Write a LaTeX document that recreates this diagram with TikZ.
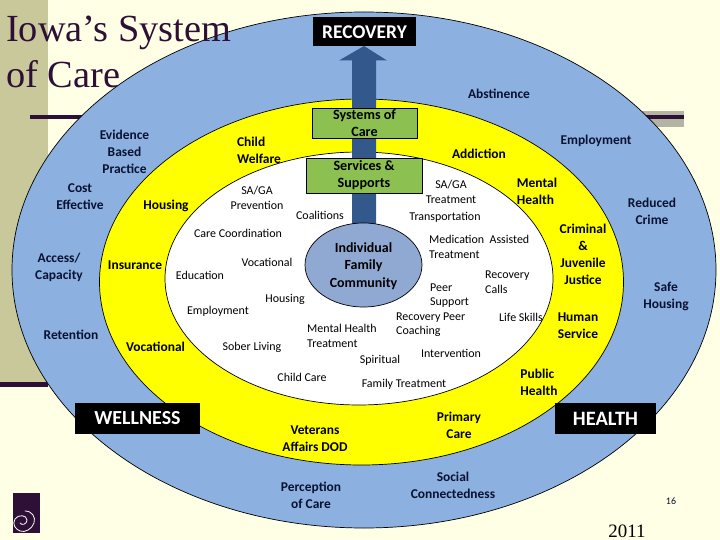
\documentclass[tikz,border=0pt]{standalone}
\usepackage{fontspec}
\setmainfont{Carlito}
\newfontfamily\titlefont{Liberation Serif}
\definecolor{cream}{HTML}{FFFFE6}
\definecolor{khaki}{HTML}{C8C89A}
\definecolor{dkpurple}{HTML}{2E0F36}
\definecolor{ringblue}{HTML}{8CB1E0}
\definecolor{innerblue}{HTML}{8FA9D2}
\definecolor{ringyellow}{HTML}{FFFF00}
\definecolor{boxgreen}{HTML}{8CC152}
\definecolor{arrowblue}{HTML}{33598C}
\definecolor{navy}{HTML}{0A1232}
\definecolor{rulegray}{HTML}{B4B4A4}
\tikzset{
 x=1bp,y=-1bp,
 ring/.style={draw=black,line width=0.7bp},
 lab/.style={align=center,font=\fontsize{13.5}{17}\selectfont\bfseries,text=navy,inner sep=0pt},
 yel/.style={lab,text=black},
 small/.style={align=center,font=\fontsize{12}{14.5}\selectfont,text=black,inner sep=0pt},
 green box/.style={draw=black,fill=boxgreen,line width=0.7bp,inner sep=0pt},
 black box/.style={fill=black,text=white,font=\bfseries,inner sep=0pt},
 title/.style={font=\titlefont\fontsize{38.5}{44}\selectfont,text=dkpurple,inner sep=0pt,anchor=base west},
}
\begin{document}
\begin{tikzpicture}
\useasboundingbox (0,0) rectangle (720,540);
\fill[cream] (0,0) rectangle (720,540);
\fill[khaki] (0,0) rectangle (48,382);
\fill[dkpurple] (0,382) rectangle (48,386.5);
\fill[rulegray] (620,111) rectangle (684,127);
\fill[dkpurple] (30,115.5) rectangle (684,119);
% rings
\draw[ring,fill=ringblue] (364,270) ellipse [x radius=352,y radius=258];
\draw[ring,fill=ringyellow] (361.5,282) ellipse [x radius=262,y radius=183];
\draw[ring,fill=white] (359,278.5) ellipse [x radius=194,y radius=126.5];
% arrow
\fill[arrowblue] (364,46) -- (387,60.5) -- (376,60.5) -- (376,224) -- (352,224) -- (352,60.5) -- (339,60.5) -- cycle;
\draw[ring,fill=innerblue] (363.5,265) ellipse [x radius=58.5,y radius=42];
% title
\node[title] (t1) at (6,42) {Iowa’s System};
\node[title] (t2) at (6,88) {of Care};
% black boxes
\node[black box,minimum width=103bp,minimum height=29bp,font=\fontsize{19.5}{20}\selectfont\bfseries] (recovery) at (364.5,32) {RECOVERY};
\node[black box,minimum width=125bp,minimum height=31bp,font=\fontsize{20}{20}\selectfont\bfseries] (wellness) at (137.5,418.5) {WELLNESS};
\node[black box,minimum width=101bp,minimum height=31bp,font=\fontsize{20.5}{20}\selectfont\bfseries] (health) at (605.5,418.5) {HEALTH};
% green boxes
\node[green box,yel,font=\fontsize{14.2}{17}\selectfont\bfseries,minimum width=105bp,minimum height=30bp] (systems) at (364.5,123) {Systems of\\Care};
\node[green box,yel,font=\fontsize{14.2}{17}\selectfont\bfseries,minimum width=116bp,minimum height=35bp] (services) at (364,175.5) {Services \&\\Supports};
% blue ring labels
\node[lab] (a1) at (124.5,152) {Evidence\\Based\\Practice};
\node[lab] (a2) at (80,197) {Cost\\Effective};
\node[lab] (a3) at (59,267) {Access/\\Capacity};
\node[lab] (a4) at (71,335) {Retention};
\node[lab] (a5) at (499,93.5) {Abstinence};
\node[lab] (a6) at (596,141) {Employment};
\node[lab] (a7) at (652,211) {Reduced\\Crime};
\node[lab] (a8) at (666,296) {Safe\\Housing};
\node[lab] (a9) at (453,485) {Social\\Connectedness};
\node[lab] (a10) at (311,495) {Perception\\of Care};
% yellow ring labels
\node[yel,align=left] (b1) at (259,150) {Child\\Welfare};
\node[yel] (b2) at (166,206) {Housing};
\node[yel] (b3) at (135,265) {Insurance};
\node[yel] (b4) at (155.5,347) {Vocational};
\node[yel] (b5) at (479,153.5) {Addiction};
\node[yel,align=left] (b6) at (537,191) {Mental\\Health};
\node[yel] (b7) at (583,254) {Criminal\\\&\\Juvenile\\Justice};
\node[yel] (b8) at (578,325.5) {Human\\Service};
\node[yel,align=left] (b9) at (539,382) {Public\\Health};
\node[yel] (b10) at (459,425.5) {Primary\\Care};
\node[yel] (b11) at (315,439) {Veterans\\Affairs DOD};
% white ring labels
\node[small] (c1) at (257,198) {SA/GA\\Prevention};
\node[small] (c2) at (320,215) {Coalitions};
\node[small] (c3) at (238,233) {Care Coordination};
\node[small] (c4) at (267,262) {Vocational};
\node[small] (c5) at (200,275) {Education};
\node[small] (c6) at (285,299) {Housing};
\node[small] (c7) at (218,311) {Employment};
\node[small,align=left,anchor=west] (c8) at (307,336) {Mental Health\\Treatment};
\node[small] (c9) at (252,347) {Sober Living};
\node[small] (c10) at (302,377) {Child Care};
\node[small] (c11) at (380,360) {Spiritual};
\node[small] (c12) at (404,384) {Family Treatment};
\node[small] (c13) at (451,192) {SA/GA\\Treatment};
\node[small] (c14) at (445,217) {Transportation};
\node[small,align=left,anchor=west] (c15) at (429,247) {Medication\ \ Assisted\\Treatment};
\node[small,align=left,anchor=west] (c16) at (485,282) {Recovery\\Calls};
\node[small,align=left,anchor=west] (c17) at (430,295.5) {Peer\\Support};
\node[small,align=left,anchor=west] (c18) at (396,324.5) {Recovery Peer\\Coaching};
\node[small] (c19) at (521,317) {Life Skills};
\node[small] (c20) at (451,353) {Intervention};
% centre
\node[yel,font=\fontsize{14}{17.5}\selectfont\bfseries] (core) at (363.5,266) {Individual\\Family\\Community};
% footer
\node[font=\fontsize{10}{12}\selectfont,text=navy,inner sep=0pt] (page) at (671,501) {16};
\node[font=\titlefont\fontsize{19}{20}\selectfont,text=black,inner sep=0pt,anchor=base] (year) at (627,537) {2011};
% logo
\fill[dkpurple] (13,493) rectangle (40,533);
\draw[white,line width=0.8bp,line cap=round] (25,511) .. controls (32,511) and (36,517) .. (34,523) .. controls (32,529) and (25,533) .. (20,531) .. controls (15,529) and (12,524) .. (15,519) .. controls (18,514) and (27,515) .. (27,520) .. controls (27,524) and (22,526) .. (20,523);
\end{tikzpicture}
\end{document}
